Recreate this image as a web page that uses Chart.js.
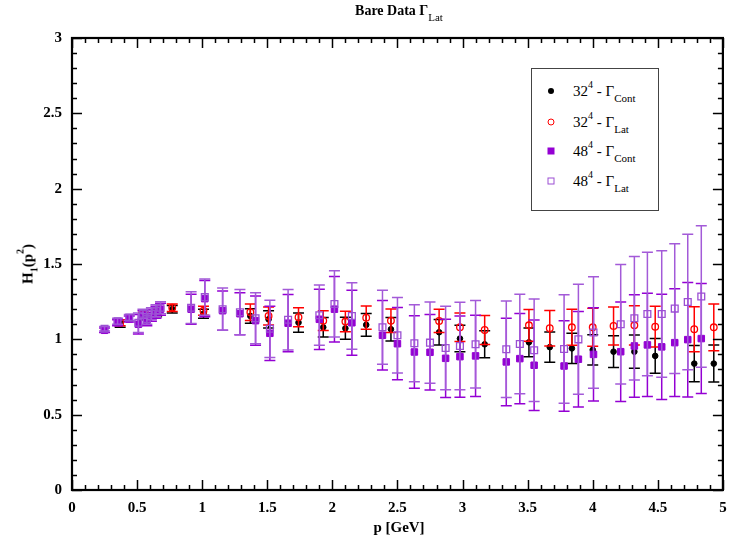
<!DOCTYPE html>
<html>
<head>
<meta charset="utf-8">
<script src="https://cdn.jsdelivr.net/npm/chart.js@4.4.1/dist/chart.umd.min.js"></script>
<style>
  html, body { margin: 0; padding: 0; background: #fff; }
  #wrap { position: relative; width: 729px; height: 545px; overflow: hidden; }
  #c { position: absolute; left: 0; top: 0; }
  .serif { font-family: "Liberation Serif", "DejaVu Serif", serif; color: #000; }
  .sup { position: relative; font-size: 10px; top: -8px; }
  .sub { position: relative; font-size: 11px; top: 6px; }
  #title { position: absolute; left: 0; width: 798px; top: 3px; text-align: center; font-weight: bold; font-size: 14px; }
  #title .sub { font-weight: normal; font-size: 11px; top: 6px; }
  #xtitle { position: absolute; left: 0; width: 798px; top: 519px; text-align: center; font-weight: bold; font-size: 15px; }
  #ytitle { position: absolute; left: 28px; top: 264px; transform: translate(-50%, -50%) rotate(-90deg); white-space: nowrap; font-weight: bold; font-size: 15px; }
  #ytitle .sub { font-size: 10px; top: 5px; }
  #ytitle .sup { font-size: 10px; top: -9px; }
  #legend { position: absolute; left: 531px; top: 68px; width: 126px; height: 141px; border: 1px solid #444; background: #fff; }
  .row { position: absolute; left: 0; height: 20px; width: 126px; }
  .row .mk { position: absolute; left: 19px; top: 50%; transform: translate(-50%, -50%); box-sizing: border-box; }
  .row .tx { position: absolute; left: 41px; top: 0; font-size: 15px; line-height: 20px; white-space: nowrap; }
</style>
</head>
<body>
<div id="wrap">
  <canvas id="c" width="729" height="545"></canvas>
  <div id="title" class="serif">Bare Data Γ<span class="sub">Lat</span></div>
  <div id="xtitle" class="serif">p [GeV]</div>
  <div id="ytitle" class="serif">H<span class="sub">1</span>(p<span class="sup">2</span>)</div>
  <div id="legend" class="serif">
    <div class="row" style="top:12px"><div class="mk" style="width:6px;height:6px;border-radius:50%;background:#000"></div><div class="tx">32<span class="sup">4</span> - Γ<span class="sub">Cont</span></div></div>
    <div class="row" style="top:43px"><div class="mk" style="width:7px;height:7px;border-radius:50%;border:1.3px solid #f00"></div><div class="tx">32<span class="sup">4</span> - Γ<span class="sub">Lat</span></div></div>
    <div class="row" style="top:72px"><div class="mk" style="width:7px;height:7px;background:#9400d3"></div><div class="tx">48<span class="sup">4</span> - Γ<span class="sub">Cont</span></div></div>
    <div class="row" style="top:102px"><div class="mk" style="width:7px;height:7px;border:1.3px solid #9b4fd3"></div><div class="tx">48<span class="sup">4</span> - Γ<span class="sub">Lat</span></div></div>
  </div>
</div>
<script>
// ---- data ----
const xTicks = [0, 0.5, 1, 1.5, 2, 2.5, 3, 3.5, 4, 4.5, 5];
const xTickLabels = ["0", "0.5", "1", "1.5", "2", "2.5", "3", "3.5", "4", "4.5", "5"];
const yTicks = [0, 0.5, 1, 1.5, 2, 2.5, 3];
const yTickLabels = ["0", "0.5", "1", "1.5", "2", "2.5", "3"];

const seriesNames = ["32^4 - Γ_Cont", "32^4 - Γ_Lat", "48^4 - Γ_Cont", "48^4 - Γ_Lat"];

const p32 = [0.37, 0.55, 0.65, 0.77, 1.01, 1.37, 1.51, 1.74, 1.93, 2.10, 2.26, 2.45, 2.82, 2.98, 3.17, 3.51, 3.67, 3.84, 4.00, 4.16, 4.32, 4.48, 4.78, 4.93];
const h32Cont = [1.10, 1.15, 1.17, 1.20, 1.17, 1.155, 1.133, 1.111, 1.08, 1.073, 1.096, 1.067, 1.047, 1.005, 0.967, 0.98, 0.948, 0.94, 0.93, 0.918, 0.918, 0.89, 0.839, 0.839];
const err32Cont = [0.02, 0.02, 0.02, 0.025, 0.03, 0.048, 0.057, 0.064, 0.065, 0.073, 0.075, 0.078, 0.085, 0.088, 0.09, 0.095, 0.10, 0.10, 0.10, 0.105, 0.11, 0.115, 0.12, 0.123];
const h32Lat = [1.11, 1.16, 1.18, 1.21, 1.19, 1.18, 1.155, 1.147, 1.124, 1.118, 1.144, 1.124, 1.122, 1.08, 1.062, 1.093, 1.074, 1.08, 1.08, 1.089, 1.093, 1.084, 1.067, 1.08];
const err32Lat = [0.02, 0.02, 0.02, 0.025, 0.03, 0.055, 0.06, 0.063, 0.065, 0.068, 0.077, 0.078, 0.077, 0.095, 0.097, 0.105, 0.118, 0.12, 0.126, 0.126, 0.13, 0.135, 0.15, 0.155];

const p48 = [0.25, 0.35, 0.44, 0.51, 0.545, 0.575, 0.61, 0.645, 0.68, 0.915, 1.02, 1.157, 1.29, 1.41, 1.52, 1.66, 1.90, 2.016, 2.15, 2.385, 2.50, 2.63, 2.75, 2.87, 2.98, 3.10, 3.336, 3.44, 3.55, 3.78, 3.89, 4.006, 4.215, 4.32, 4.42, 4.53, 4.63, 4.73, 4.834];
const h48Cont = [1.06, 1.11, 1.135, 1.10, 1.16, 1.125, 1.16, 1.18, 1.20, 1.20, 1.27, 1.19, 1.17, 1.124, 1.04, 1.107, 1.133, 1.20, 1.11, 1.027, 0.971, 0.916, 0.914, 0.874, 0.885, 0.89, 0.85, 0.872, 0.828, 0.823, 0.868, 0.90, 0.918, 0.956, 0.963, 0.95, 0.978, 0.998, 1.005];
const err48Cont = [0.015, 0.02, 0.02, 0.065, 0.03, 0.035, 0.04, 0.04, 0.04, 0.10, 0.12, 0.13, 0.14, 0.164, 0.18, 0.19, 0.20, 0.217, 0.215, 0.23, 0.24, 0.24, 0.25, 0.26, 0.27, 0.27, 0.29, 0.30, 0.30, 0.30, 0.317, 0.31, 0.33, 0.34, 0.343, 0.35, 0.357, 0.38, 0.365];
const h48Lat = [1.07, 1.12, 1.145, 1.11, 1.17, 1.135, 1.17, 1.19, 1.21, 1.21, 1.28, 1.20, 1.18, 1.14, 1.07, 1.13, 1.16, 1.235, 1.155, 1.08, 1.027, 0.974, 0.978, 0.943, 0.956, 0.967, 0.934, 0.969, 0.928, 0.936, 1.0, 1.045, 1.10, 1.14, 1.168, 1.168, 1.204, 1.248, 1.284];
const err48Lat = [0.015, 0.02, 0.02, 0.065, 0.03, 0.035, 0.04, 0.04, 0.04, 0.105, 0.12, 0.14, 0.15, 0.17, 0.19, 0.20, 0.20, 0.22, 0.22, 0.246, 0.25, 0.255, 0.27, 0.277, 0.29, 0.29, 0.32, 0.33, 0.34, 0.36, 0.365, 0.37, 0.396, 0.41, 0.41, 0.42, 0.43, 0.45, 0.47];

const xMinorStep = 0.1;
const yMinorStep = 0.1;

// ---- plugins ----
const errorBars = {
  id: 'errorBars',
  beforeDatasetDraw(chart, args) {
    const ds = chart.data.datasets[args.index];
    if (!ds.errors) return;
    const ctx = chart.ctx;
    const ys = chart.scales.y;
    const cap = 5.5;
    ctx.save();
    ctx.strokeStyle = ds.errorColor;
    ctx.lineWidth = 1.5;
    ds.data.forEach((pt, i) => {
      const el = args.meta.data[i];
      const e = ds.errors[i];
      const px = el.x;
      const top = ys.getPixelForValue(pt.y + e);
      const bot = ys.getPixelForValue(pt.y - e);
      ctx.beginPath();
      ctx.moveTo(px, top); ctx.lineTo(px, bot);
      ctx.moveTo(px - cap, top); ctx.lineTo(px + cap, top);
      ctx.moveTo(px - cap, bot); ctx.lineTo(px + cap, bot);
      ctx.stroke();
    });
    ctx.restore();
  }
};

const axisFrame = {
  id: 'axisFrame',
  afterDraw(chart) {
    const ctx = chart.ctx;
    const a = chart.chartArea;
    const xs = chart.scales.x, ys = chart.scales.y;
    ctx.save();
    ctx.strokeStyle = '#000';
    ctx.lineWidth = 1.5;
    ctx.beginPath();
    const nx = Math.round((xs.max - xs.min) / xMinorStep);
    for (let i = 0; i <= nx; i++) {
      const v = xs.min + i * xMinorStep;
      const px = Math.round(xs.getPixelForValue(v)) + 0.5;
      const len = (i % 5 === 0) ? 10 : 5;
      ctx.moveTo(px, a.bottom); ctx.lineTo(px, a.bottom - len);
      ctx.moveTo(px, a.top); ctx.lineTo(px, a.top + len);
    }
    const ny = Math.round((ys.max - ys.min) / yMinorStep);
    for (let i = 0; i <= ny; i++) {
      const v = ys.min + i * yMinorStep;
      const py = Math.round(ys.getPixelForValue(v)) + 0.5;
      const len = (i % 5 === 0) ? 10 : 5;
      ctx.moveTo(a.left, py); ctx.lineTo(a.left + len, py);
      ctx.moveTo(a.right, py); ctx.lineTo(a.right - len, py);
    }
    ctx.stroke();
    ctx.lineWidth = 2.2;
    ctx.strokeRect(a.left, a.top, a.right - a.left, a.bottom - a.top);
    ctx.restore();
  }
};

const toPts = (xs, ys) => xs.map((x, i) => ({ x: x, y: ys[i] }));

const tickFont = { family: '"Liberation Serif", "DejaVu Serif", serif', weight: 'bold', size: 15 };

new Chart(document.getElementById('c'), {
  type: 'scatter',
  data: {
    datasets: [
      { label: seriesNames[0], data: toPts(p32, h32Cont), errors: err32Cont, errorColor: '#000000',
        pointStyle: 'circle', pointRadius: 2.8, backgroundColor: '#000', borderColor: '#000', borderWidth: 1, order: 3 },
      { label: seriesNames[1], data: toPts(p32, h32Lat), errors: err32Lat, errorColor: '#ff0000',
        pointStyle: 'circle', pointRadius: 3.3, backgroundColor: 'rgba(0,0,0,0)', borderColor: '#ff0000', borderWidth: 1.3, order: 2 },
      { label: seriesNames[2], data: toPts(p48, h48Cont), errors: err48Cont, errorColor: '#9400d3',
        pointStyle: 'rect', pointRadius: 4.6, backgroundColor: '#9400d3', borderColor: '#9400d3', borderWidth: 1, order: 1 },
      { label: seriesNames[3], data: toPts(p48, h48Lat), errors: err48Lat, errorColor: '#a35ad8',
        pointStyle: 'rect', pointRadius: 4.8, backgroundColor: 'rgba(0,0,0,0)', borderColor: '#9b4fd3', borderWidth: 1.3, order: 0 }
    ]
  },
  options: {
    responsive: false,
    animation: false,
    events: [],
    layout: { padding: { top: 38, right: 3, left: 0, bottom: 0 } },
    plugins: { legend: { display: false }, tooltip: { enabled: false }, title: { display: false } },
    scales: {
      x: {
        type: 'linear', min: 0, max: 5,
        grid: { display: false, drawTicks: false },
        border: { display: false },
        afterBuildTicks: s => { s.ticks = xTicks.map(v => ({ value: v })); },
        afterFit: s => { s.height = 55; s.paddingRight = 0; s.paddingLeft = 0; },
        ticks: { font: tickFont, color: '#000', padding: 9, maxRotation: 0, autoSkip: false,
                 callback: (v, i) => xTickLabels[i] }
      },
      y: {
        type: 'linear', min: 0, max: 3,
        grid: { display: false, drawTicks: false },
        border: { display: false },
        afterBuildTicks: s => { s.ticks = yTicks.map(v => ({ value: v })); },
        afterFit: s => { s.width = 72; s.paddingTop = 0; s.paddingBottom = 0; },
        ticks: { font: tickFont, color: '#000', padding: 10, autoSkip: false,
                 callback: (v, i) => yTickLabels[i] }
      }
    }
  },
  plugins: [errorBars, axisFrame]
});
</script>
</body>
</html>
